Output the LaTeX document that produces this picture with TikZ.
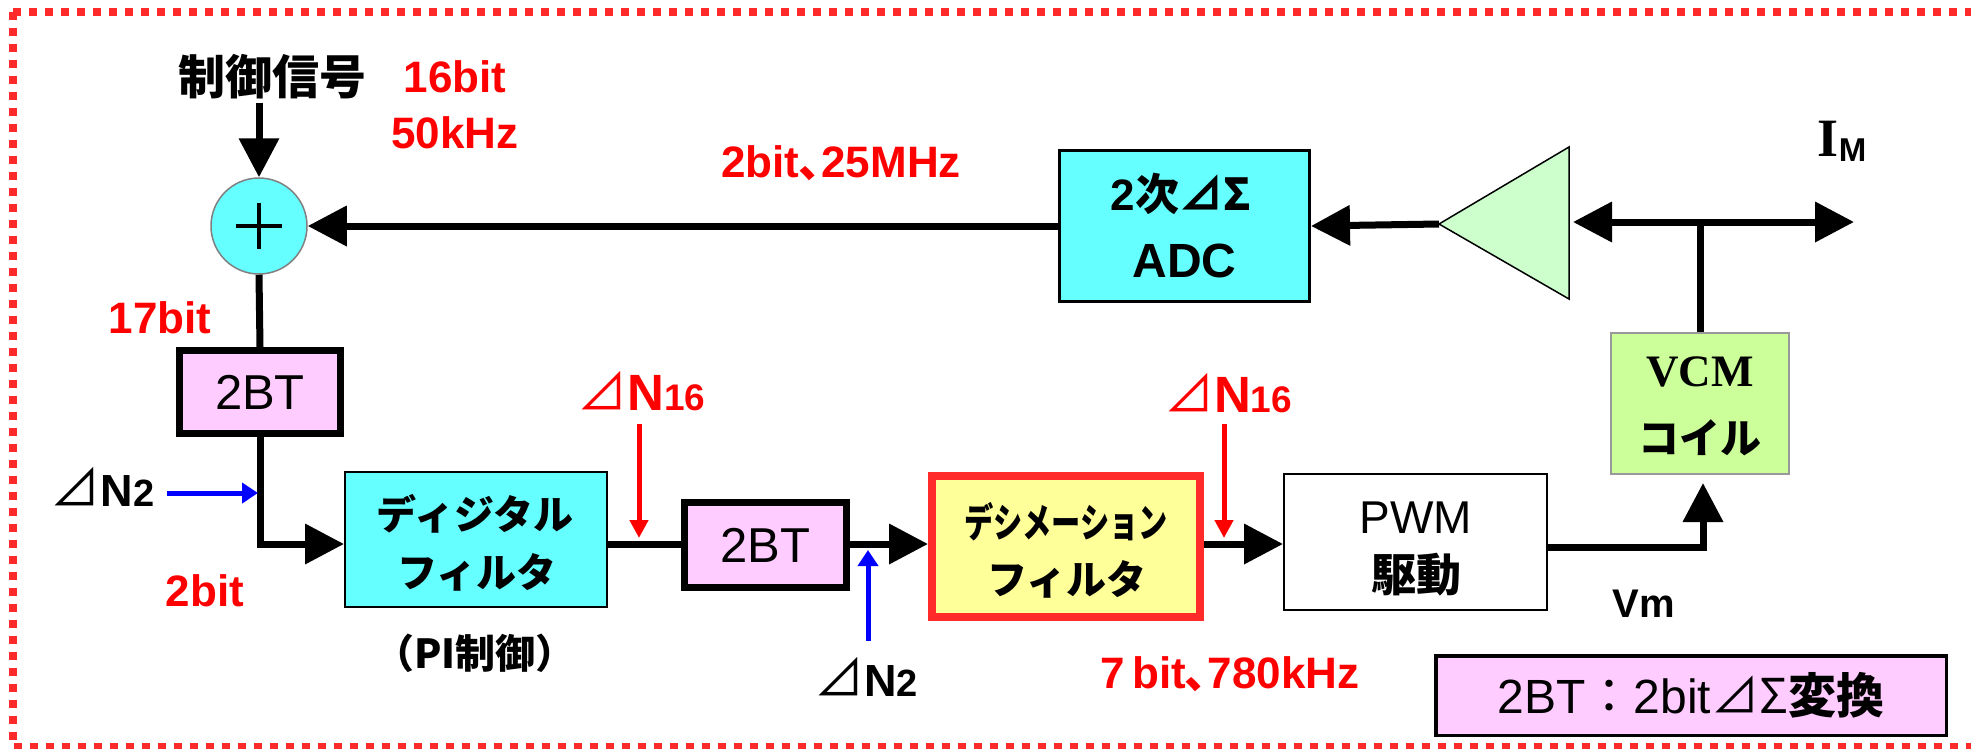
\documentclass[tikz,border=0pt]{standalone}
\usepackage{fontspec}
\usepackage{graphicx}
\setmainfont{Liberation Sans}
\newfontfamily\jp{Noto Sans CJK JP}
\newfontfamily\srf{Liberation Serif}
\usetikzlibrary{arrows.meta,calc}
\definecolor{cyanf}{HTML}{66FFFF}
\definecolor{pinkf}{HTML}{FFCCFF}
\definecolor{yelf}{HTML}{FFFF99}
\definecolor{vcmf}{HTML}{CCFF99}
\definecolor{ampf}{HTML}{CCFFCC}
\definecolor{bordr}{HTML}{FF2A2A}
\definecolor{txtred}{HTML}{FF0000}
\definecolor{arrblue}{HTML}{0000FF}
\newcommand\fsz[1]{\fontsize{#1}{#1}\selectfont}
\newcommand\tenten{{\jp ､}}
\begin{document}
\begin{tikzpicture}[x=1pt,y=-1pt,
  conn/.style={line width=7pt},
  arr/.style={conn,-{Triangle[length=39pt,width=39pt]}},
  thinred/.style={draw=txtred,line width=5pt,-{Triangle[length=18pt,width=18pt]}},
  thinblue/.style={draw=arrblue,line width=5pt,-{Triangle[length=16pt,width=20pt]}},
  btbox/.style={draw,line width=7pt,fill=pinkf,inner sep=0pt,font=\fsz{49}},
  txt/.style={inner sep=0pt},
  lbl/.style={txt,text=txtred,font=\bfseries\fsz{44}},
  jpb/.style={txt,font=\jp\bfseries\fsz{40}}]
\useasboundingbox (0,0) rectangle (1971,748);
\fill[white] (0,0) rectangle (1971,748);
% outer dashed frame
\draw[bordr,line width=7.5pt,dash pattern=on 8pt off 8pt] (13,12) rectangle (1978,747);

% summing junction
\node[circle,draw=gray,line width=1.5pt,fill=cyanf,minimum size=96pt,inner sep=0pt] (sum) at (259,226) {};
\draw[line width=4pt] ($(sum.center)+(-23,0)$) -- ($(sum.center)+(23,0)$);
\draw[line width=4pt] ($(sum.center)+(0,-23)$) -- ($(sum.center)+(0,23)$);

\node[txt,font=\jp\bfseries\fsz{47},inner sep=3pt] (sig) at (272,77) {制御信号};
\node[lbl] (t16) at (455,77) {16bit};
\node[lbl] (t50) at (455,133) {50kHz};
\node[lbl] (t17) at (160,318) {17bit};
\node[lbl] (t2b) at (205,591) {2bit};
\node[lbl] (t25) at (841,163.5) {2bit\tenten 25MHz};
\node[lbl] (t7) at (1230,674) {7\,bit\tenten 780kHz};

% boxes
\node[btbox,minimum width=161pt,minimum height=83pt] (bt1) at (260,392) {2BT};
\node[draw,line width=2pt,fill=cyanf,minimum width=262pt,minimum height=135pt] (df) at (476,539.5) {};
\node[jpb] (df1) at (475,514) {ディジタル};
\node[jpb] (df2) at (477,572) {フィルタ};
\node[jpb] (pi) at (475,653) {（PI制御）};
\node[btbox,minimum width=162pt,minimum height=85pt] (bt2) at (765.5,545) {2BT};
\node[draw=bordr,line width=8pt,fill=yelf,minimum width=268pt,minimum height=141pt] (dec) at (1066,546.5) {};
\node[jpb] (dec1) at (1066,522) {\scalebox{0.73}[1]{デシメーション}};
\node[jpb] (dec2) at (1067,579) {フィルタ};
\node[draw,line width=2pt,fill=white,minimum width=263pt,minimum height=136pt] (pwm) at (1415.5,542) {};
\node[txt,font=\fsz{46}] (pwm1) at (1416,518) {PWM};
\node[txt,font=\jp\bfseries\fsz{45}] (pwm2) at (1416,575) {駆動};
\node[draw=gray!80,line width=2pt,fill=vcmf,minimum width=178pt,minimum height=141pt] (vcm) at (1700,403.5) {};
\node[txt,font=\srf\bfseries\fsz{45}] (vcm1) at (1700,372) {VCM};
\node[txt,font=\jp\bfseries\fsz{41}] (vcm2) at (1700,438) {コイル};
\node[draw,line width=3pt,fill=cyanf,minimum width=250pt,minimum height=151pt] (adc) at (1184.5,226) {};
\node[txt,font=\bfseries\fsz{44}] (adc1) at (1181,194) {2{\jp 次⊿Σ}};
\node[txt,font=\bfseries\fsz{48}] (adc2) at (1184.5,260.5) {ADC};
\node[txt,text=black] (vm) at (1644,603.5) {\bfseries\fsz{40}Vm};
\node[txt] (im) at (1842,141) {{\srf\bfseries\fsz{54}I}\raisebox{-5pt}{\bfseries\fsz{33}M}};

% delta labels
\node[txt,text=txtred] (dn16a) at (641.5,391.5) {{\jp\fsz{50}⊿}{\bfseries\fsz{51}N\fsz{37}16}};
\node[txt,text=txtred] (dn16b) at (1228,393.5) {{\jp\fsz{50}⊿}{\bfseries\fsz{51}N\fsz{37}16}};
\node[txt] (dn2a) at (102.5,486.5) {{\jp\fsz{50}⊿}{\bfseries\fsz{45}N\fsz{38}2}};
\node[txt] (dn2b) at (866,676.5) {{\jp\fsz{50}⊿}{\bfseries\fsz{45}N\fsz{38}2}};

% amplifier
\coordinate (amptip) at (1439,224);
\coordinate (ampT) at (1569,147);
\coordinate (ampB) at (1569,299);
\draw[fill=ampf,line width=1.5pt] (amptip) -- (ampT) -- (ampB) -- cycle;
\coordinate (ampout) at (1573,222);
\coordinate (imend) at (1854,222);

% legend
\node[draw,line width=3.5pt,fill=pinkf,minimum width=510.5pt,minimum height=79.5pt,font=\fsz{48}] (leg) at (1691,695.5) {2BT{\jp ：}2bit{\jp ⊿Σ\bfseries 変換}};

% connectors
\coordinate (row) at (0,544);
\draw[arr] (sig.south -| sum.north) -- (sum.north);
\draw[arr] (adc.west) -- (sum.east);
\draw[arr] (amptip) -- (adc.east);
\draw[conn,{Triangle[length=39pt,width=39pt]}-{Triangle[length=39pt,width=39pt]}] (ampout) -- (imend);
\draw[conn] (vcm.north) -- (vcm.north |- ampout);
\draw[conn] (sum.south) -- (bt1.north);
\draw[arr] (bt1.south) |- (df.west |- row);
\draw[conn] (df.east |- row) -- (bt2.west |- row);
\draw[arr] (bt2.east |- row) -- (dec.west |- row);
\draw[arr] (dec.east |- row) -- (pwm.west |- row);
\coordinate (pwmout) at (1548,547);
\coordinate (vcmin) at (1703,483);
\draw[arr] (pwmout) -| (vcmin);

% thin arrows
\coordinate (r1s) at (639,424); \coordinate (r1e) at (639,538);
\draw[thinred] (r1s) -- (r1e);
\coordinate (r2s) at (1224,424); \coordinate (r2e) at (1224,538);
\draw[thinred] (r2s) -- (r2e);
\coordinate (b1s) at (167,493); \coordinate (b1e) at (258,493);
\draw[thinblue] (b1s) -- (b1e);
\coordinate (b2s) at (868,641); \coordinate (b2e) at (868,550);
\draw[thinblue] (b2s) -- (b2e);
\end{tikzpicture}
\end{document}
